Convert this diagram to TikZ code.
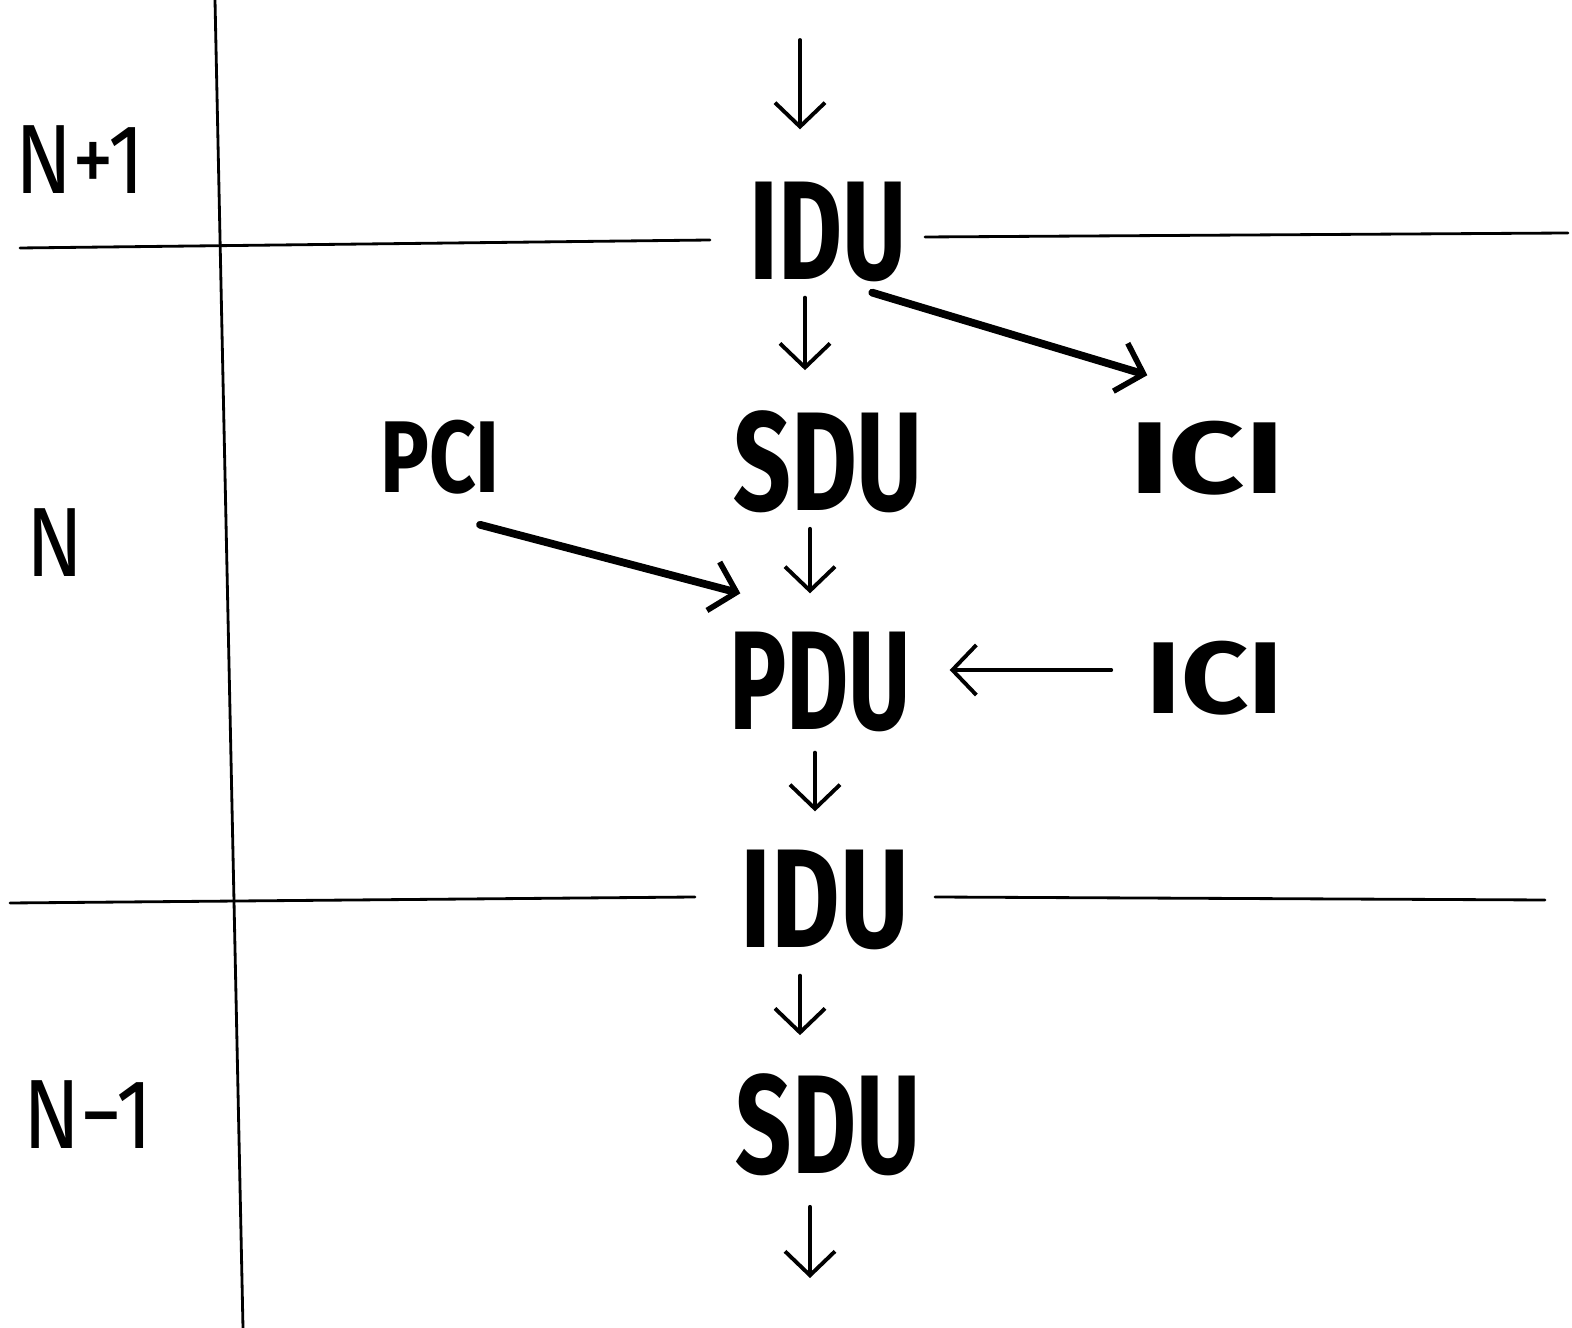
\documentclass[tikz,border=0pt]{standalone}
\usepackage{fontspec}
\setmainfont{Fira Sans}
\usetikzlibrary{arrows.meta,calc}
\begin{document}
\begin{tikzpicture}[x=0.01cm,y=-0.01cm,
  lbl/.style={font=\fontsize{28}{32}\selectfont, inner sep=0pt},
  unit/.style={font=\fontsize{40}{44}\selectfont\bfseries, inner sep=0pt},
  small/.style={font=\fontsize{29}{34}\selectfont\bfseries, inner sep=0pt},
  frame/.style={line width=0.8pt, line cap=round},
  arr/.style={line width=1.1pt, line cap=round, -{Straight Barb[length=2.4mm,width=5mm,line width=1.1pt]}},
  thickarr/.style={line width=2.2pt, line cap=round, -{Straight Barb[length=2.4mm,width=5mm,line width=1.6pt]}}]
\useasboundingbox (0,0) rectangle (1572,1328);
\fill[white] (0,0) rectangle (1572,1328);

% layer labels
\node[lbl] (lN1) at (80,160) {\scalebox{0.85}[1]{N+1}};
\node[lbl] (lN) at (55,543) {\scalebox{0.85}[1]{N}};
\node[lbl] (lNm1) at (88,1115) {\scalebox{0.85}[1]{N−1}};

% units
\node[unit] (idu1) at (828,232) {\scalebox{0.7}[1]{IDU}};
\node[unit] (sdu1) at (828,462) {\scalebox{0.72}[1]{SDU}};
\node[small] (pci) at (440,457) {\scalebox{0.8}[1]{PCI}};
\node[small] (ici1) at (1207,458) {\scalebox{1.3}[1]{ICI}};
\node[unit] (pdu) at (820,682) {\scalebox{0.68}[1]{PDU}};
\node[small] (ici2) at (1215,678) {\scalebox{1.15}[1]{ICI}};
\node[unit] (idu2) at (825,900) {\scalebox{0.75}[1]{IDU}};
\node[unit] (sdu2) at (828,1125) {\scalebox{0.7}[1]{SDU}};

% frame
\coordinate (vt) at (215,0);
\coordinate (vb) at (243,1328);
\draw[frame] (vt) -- (vb);
\coordinate (h1a) at (20,248);
\coordinate (h1b) at (710,240);
\coordinate (h1c) at (925,237);
\coordinate (h1d) at (1568,233);
\coordinate (h2a) at (10,903);
\coordinate (h2b) at (695,897);
\coordinate (h2c) at (935,897);
\coordinate (h2d) at (1545,900);
\draw[frame] (h1a) -- (h1b);
\draw[frame] (h1c) -- (h1d);
\draw[frame] (h2a) -- (h2b);
\draw[frame] (h2c) -- (h2d);

% connectors
\coordinate (topin) at (800,40);
\coordinate (botout) at (810,1278);
\draw[arr] (topin) -- ($(idu1.north -| topin)+(0,-52)$);
\draw[arr] ($(idu1.south)+(-23,15)$) -- ($(sdu1.north)+(-23,-40)$);
\draw[arr] ($(sdu1.south)+(-18,15)$) -- ($(pdu.north)+(-10,-38)$);
\draw[arr] ($(pdu.south)+(-5,20)$) -- ($(idu2.north)+(-10,-38)$);
\draw[arr] ($(idu2.south)+(-25,25)$) -- ($(sdu2.north)+(-28,-38)$);
\draw[arr] ($(sdu2.south)+(-18,30)$) -- (botout);
\draw[arr] ($(ici2.west)+(-35,-8)$) -- ($(pdu.east)+(38,-12)$);
\draw[thickarr] ($(pci.south)+(40,30)$) -- ($(pdu.north west)+(12,-38)$);
\draw[thickarr] ($(idu1.south east)+(-35,10)$) -- ($(ici1.north west)+(18,-45)$);
\end{tikzpicture}
\end{document}
